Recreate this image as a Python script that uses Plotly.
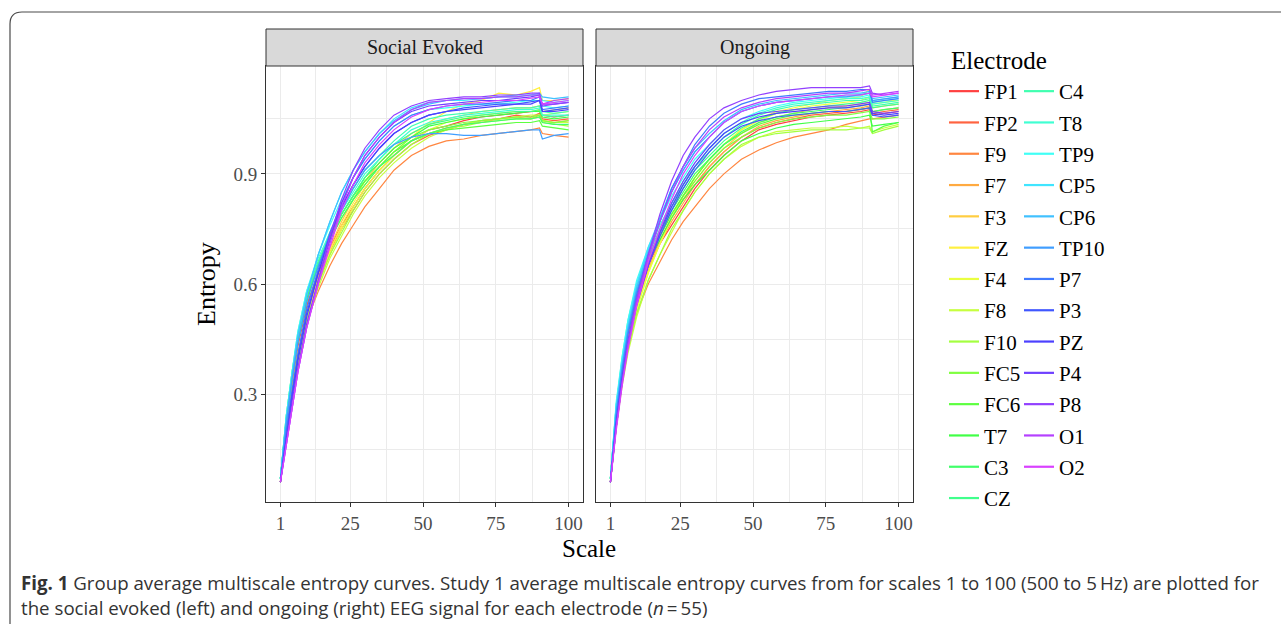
import colorsys
import plotly.graph_objects as go

# ---------------- data ----------------
SCALES = [1, 2, 3, 5, 7, 10, 14, 18, 22, 26, 30, 35, 40, 46, 52, 58, 64, 70, 76, 82, 87, 90, 91, 95, 100]

ELECTRODES = ["FP1", "FP2", "F9", "F7", "F3", "FZ", "F4", "F8", "F10", "FC5", "FC6", "T7", "C3", "CZ",
              "C4", "T8", "TP9", "CP5", "CP6", "TP10", "P7", "P3", "PZ", "P4", "P8", "O1", "O2"]

# Social Evoked
SE_FP1 = [0.06,0.14,0.21,0.33,0.43,0.54,0.63,0.70,0.76,0.81,0.86,0.91,0.95,0.99,1.02,1.03,1.045,1.055,1.06,1.065,1.07,1.072,1.06,1.055,1.06]
SE_FP2 = [0.06,0.14,0.22,0.34,0.44,0.54,0.63,0.69,0.75,0.80,0.85,0.90,0.94,0.98,1.005,1.02,1.035,1.045,1.05,1.06,1.055,1.065,1.05,1.045,1.05]
SE_F9 = [0.06,0.13,0.21,0.32,0.41,0.50,0.58,0.65,0.71,0.76,0.81,0.86,0.91,0.95,0.975,0.99,0.995,1.005,1.01,1.015,1.02,1.025,1.01,1.005,1.0]
SE_F7 = [0.06,0.13,0.20,0.31,0.41,0.51,0.61,0.68,0.75,0.81,0.86,0.91,0.95,0.99,1.01,1.025,1.035,1.04,1.05,1.055,1.05,1.06,1.045,1.04,1.045]
SE_F3 = [0.06,0.13,0.20,0.31,0.41,0.52,0.62,0.70,0.77,0.83,0.88,0.93,0.97,1.01,1.035,1.05,1.06,1.07,1.075,1.08,1.08,1.085,1.07,1.075,1.08]
SE_FZ = [0.06,0.12,0.19,0.30,0.40,0.51,0.61,0.69,0.76,0.82,0.87,0.92,0.96,1.00,1.04,1.07,1.09,1.10,1.12,1.115,1.125,1.135,1.10,1.10,1.105]
SE_F4 = [0.06,0.12,0.19,0.30,0.39,0.50,0.60,0.68,0.75,0.81,0.86,0.91,0.95,0.99,1.02,1.04,1.05,1.06,1.065,1.07,1.07,1.075,1.06,1.065,1.07]
SE_F8 = [0.06,0.12,0.19,0.29,0.38,0.49,0.59,0.67,0.73,0.79,0.84,0.89,0.93,0.97,1.00,1.02,1.035,1.045,1.05,1.055,1.06,1.06,1.045,1.04,1.04]
SE_F10 = [0.06,0.13,0.20,0.31,0.40,0.50,0.60,0.68,0.74,0.80,0.85,0.90,0.94,0.98,1.01,1.025,1.03,1.04,1.045,1.05,1.05,1.055,1.04,1.035,1.03]
SE_FC5 = [0.07,0.15,0.23,0.35,0.45,0.56,0.65,0.72,0.78,0.83,0.88,0.92,0.96,1.00,1.02,1.03,1.04,1.045,1.05,1.055,1.055,1.06,1.045,1.04,1.045]
SE_FC6 = [0.07,0.15,0.23,0.35,0.46,0.57,0.66,0.73,0.79,0.84,0.88,0.92,0.96,0.99,1.01,1.02,1.025,1.03,1.035,1.04,1.04,1.045,1.03,1.025,1.02]
SE_T7 = [0.07,0.15,0.24,0.36,0.46,0.57,0.66,0.73,0.79,0.84,0.89,0.93,0.97,1.00,1.03,1.04,1.05,1.055,1.06,1.065,1.07,1.07,1.055,1.05,1.055]
SE_C3 = [0.07,0.15,0.23,0.35,0.45,0.56,0.65,0.72,0.78,0.83,0.87,0.92,0.95,0.99,1.01,1.025,1.035,1.04,1.045,1.05,1.05,1.055,1.04,1.035,1.035]
SE_CZ = [0.07,0.14,0.22,0.34,0.44,0.55,0.65,0.72,0.79,0.84,0.89,0.94,0.98,1.01,1.035,1.045,1.055,1.06,1.065,1.07,1.07,1.075,1.06,1.055,1.06]
SE_C4 = [0.07,0.15,0.23,0.35,0.46,0.57,0.66,0.74,0.80,0.86,0.91,0.95,0.99,1.03,1.05,1.06,1.065,1.07,1.075,1.08,1.08,1.085,1.07,1.065,1.07]
SE_T8 = [0.07,0.16,0.24,0.36,0.47,0.58,0.67,0.74,0.80,0.85,0.90,0.94,0.98,1.02,1.04,1.05,1.06,1.065,1.07,1.075,1.075,1.08,1.06,1.06,1.06]
SE_TP9 = [0.07,0.16,0.24,0.36,0.47,0.58,0.68,0.76,0.83,0.89,0.94,0.99,1.03,1.06,1.075,1.08,1.085,1.09,1.09,1.095,1.10,1.10,1.085,1.08,1.085]
SE_CP5 = [0.07,0.15,0.23,0.35,0.46,0.57,0.68,0.77,0.85,0.91,0.96,1.01,1.05,1.08,1.095,1.10,1.10,1.105,1.11,1.11,1.115,1.115,1.10,1.095,1.10]
SE_CP6 = [0.07,0.15,0.23,0.35,0.46,0.57,0.68,0.77,0.85,0.91,0.96,1.01,1.045,1.075,1.09,1.10,1.105,1.105,1.11,1.115,1.115,1.12,1.11,1.105,1.11]
SE_TP10 = [0.07,0.14,0.22,0.34,0.44,0.55,0.65,0.73,0.80,0.86,0.91,0.95,0.98,1.00,1.01,1.01,1.005,1.005,1.01,1.015,1.02,1.02,0.995,1.005,1.01]
SE_P7 = [0.06,0.13,0.20,0.31,0.41,0.53,0.64,0.74,0.82,0.89,0.94,0.99,1.03,1.06,1.075,1.085,1.09,1.09,1.095,1.10,1.10,1.11,1.075,1.08,1.085]
SE_P3 = [0.06,0.12,0.19,0.30,0.40,0.52,0.63,0.73,0.81,0.87,0.92,0.97,1.01,1.04,1.06,1.07,1.08,1.085,1.09,1.09,1.095,1.10,1.07,1.075,1.08]
SE_PZ = [0.06,0.12,0.18,0.29,0.39,0.51,0.63,0.73,0.81,0.87,0.92,0.97,1.01,1.04,1.06,1.07,1.075,1.08,1.085,1.09,1.09,1.10,1.07,1.07,1.075]
SE_P4 = [0.06,0.11,0.17,0.28,0.37,0.49,0.61,0.72,0.82,0.89,0.95,1.00,1.04,1.07,1.085,1.09,1.095,1.10,1.10,1.105,1.11,1.115,1.09,1.09,1.095]
SE_P8 = [0.06,0.11,0.17,0.27,0.36,0.48,0.61,0.73,0.83,0.91,0.97,1.02,1.06,1.085,1.10,1.105,1.11,1.11,1.115,1.115,1.12,1.12,1.085,1.09,1.095]
SE_O1 = [0.06,0.11,0.17,0.27,0.36,0.48,0.60,0.71,0.81,0.89,0.95,1.00,1.04,1.075,1.095,1.10,1.105,1.105,1.11,1.11,1.115,1.115,1.09,1.10,1.105]
SE_O2 = [0.06,0.11,0.17,0.27,0.36,0.48,0.60,0.70,0.80,0.87,0.93,0.98,1.02,1.055,1.075,1.085,1.09,1.095,1.10,1.10,1.105,1.11,1.09,1.095,1.10]

# Ongoing
ON_FP1 = [0.06,0.15,0.24,0.36,0.45,0.55,0.64,0.71,0.76,0.81,0.86,0.91,0.95,0.99,1.02,1.035,1.045,1.055,1.06,1.065,1.07,1.075,1.06,1.065,1.07]
ON_FP2 = [0.06,0.15,0.24,0.36,0.46,0.56,0.65,0.72,0.78,0.83,0.87,0.92,0.96,1.00,1.025,1.04,1.05,1.06,1.065,1.07,1.075,1.08,1.065,1.07,1.075]
ON_F9 = [0.06,0.14,0.22,0.34,0.43,0.52,0.60,0.66,0.72,0.77,0.81,0.86,0.90,0.94,0.965,0.985,1.0,1.01,1.02,1.035,1.045,1.05,1.05,1.055,1.06]
ON_F7 = [0.06,0.15,0.23,0.35,0.45,0.55,0.64,0.71,0.77,0.82,0.87,0.92,0.96,1.00,1.03,1.045,1.055,1.065,1.07,1.075,1.08,1.085,1.07,1.075,1.08]
ON_F3 = [0.06,0.14,0.22,0.34,0.44,0.54,0.64,0.71,0.78,0.83,0.88,0.93,0.97,1.01,1.04,1.055,1.065,1.075,1.08,1.085,1.09,1.095,1.08,1.085,1.09]
ON_FZ = [0.06,0.13,0.21,0.33,0.42,0.53,0.63,0.71,0.78,0.84,0.89,0.94,0.98,1.02,1.05,1.07,1.08,1.09,1.10,1.105,1.11,1.13,1.095,1.10,1.10]
ON_F4 = [0.06,0.13,0.21,0.33,0.42,0.53,0.63,0.71,0.78,0.84,0.89,0.94,0.98,1.02,1.045,1.065,1.075,1.085,1.09,1.095,1.10,1.11,1.09,1.095,1.10]
ON_F8 = [0.06,0.13,0.21,0.32,0.41,0.51,0.61,0.68,0.74,0.80,0.85,0.90,0.94,0.975,1.0,1.015,1.02,1.025,1.025,1.03,1.025,1.03,1.015,1.025,1.035]
ON_F10 = [0.06,0.14,0.22,0.33,0.42,0.52,0.61,0.68,0.75,0.80,0.85,0.90,0.94,0.98,1.0,1.01,1.015,1.02,1.02,1.02,1.025,1.025,1.01,1.02,1.03]
ON_FC5 = [0.07,0.16,0.25,0.37,0.47,0.57,0.66,0.73,0.79,0.84,0.88,0.93,0.97,1.00,1.025,1.04,1.05,1.055,1.06,1.06,1.065,1.07,1.05,1.05,1.055]
ON_FC6 = [0.07,0.16,0.25,0.37,0.47,0.57,0.66,0.73,0.79,0.84,0.89,0.94,0.98,1.01,1.035,1.05,1.06,1.065,1.07,1.07,1.075,1.08,1.014,1.03,1.04]
ON_T7 = [0.07,0.16,0.25,0.37,0.47,0.57,0.66,0.72,0.78,0.83,0.87,0.91,0.95,0.99,1.01,1.025,1.035,1.04,1.045,1.05,1.055,1.06,1.03,1.035,1.04]
ON_C3 = [0.07,0.16,0.26,0.38,0.48,0.58,0.67,0.74,0.80,0.85,0.90,0.94,0.98,1.015,1.04,1.055,1.065,1.07,1.075,1.08,1.085,1.09,1.07,1.075,1.08]
ON_CZ = [0.07,0.16,0.26,0.38,0.48,0.58,0.67,0.74,0.81,0.86,0.91,0.95,0.99,1.025,1.05,1.065,1.075,1.08,1.085,1.09,1.095,1.10,1.08,1.085,1.09]
ON_C4 = [0.07,0.17,0.27,0.39,0.49,0.59,0.68,0.75,0.82,0.87,0.92,0.96,1.0,1.035,1.06,1.075,1.085,1.09,1.095,1.10,1.10,1.105,1.085,1.09,1.095]
ON_T8 = [0.07,0.17,0.27,0.40,0.50,0.60,0.69,0.76,0.82,0.88,0.92,0.97,1.01,1.04,1.065,1.08,1.09,1.095,1.10,1.105,1.105,1.11,1.09,1.095,1.10]
ON_TP9 = [0.07,0.17,0.28,0.40,0.50,0.61,0.70,0.77,0.84,0.89,0.94,0.98,1.02,1.05,1.07,1.085,1.095,1.10,1.105,1.11,1.11,1.115,1.095,1.10,1.105]
ON_CP5 = [0.07,0.17,0.27,0.39,0.49,0.60,0.70,0.78,0.85,0.91,0.96,1.0,1.04,1.07,1.085,1.095,1.10,1.105,1.11,1.115,1.115,1.12,1.10,1.105,1.11]
ON_CP6 = [0.07,0.16,0.26,0.38,0.48,0.59,0.69,0.78,0.86,0.92,0.97,1.01,1.045,1.075,1.09,1.10,1.105,1.11,1.115,1.12,1.12,1.125,1.105,1.11,1.115]
ON_TP10 = [0.06,0.16,0.25,0.37,0.47,0.58,0.68,0.77,0.85,0.91,0.96,1.0,1.04,1.07,1.085,1.095,1.10,1.105,1.11,1.11,1.115,1.12,1.10,1.105,1.11]
ON_P7 = [0.06,0.15,0.24,0.36,0.46,0.57,0.68,0.77,0.86,0.92,0.98,1.03,1.065,1.09,1.105,1.11,1.115,1.12,1.125,1.125,1.13,1.13,1.095,1.10,1.105]
ON_P3 = [0.06,0.14,0.22,0.34,0.44,0.55,0.65,0.73,0.80,0.86,0.91,0.96,1.0,1.03,1.045,1.055,1.06,1.065,1.07,1.07,1.075,1.08,1.06,1.055,1.06]
ON_PZ = [0.06,0.14,0.22,0.34,0.44,0.55,0.65,0.74,0.81,0.87,0.92,0.97,1.01,1.04,1.055,1.065,1.07,1.075,1.08,1.08,1.085,1.09,1.065,1.06,1.065]
ON_P4 = [0.06,0.13,0.21,0.33,0.43,0.54,0.65,0.74,0.82,0.88,0.93,0.98,1.02,1.05,1.065,1.07,1.075,1.08,1.085,1.085,1.09,1.095,1.07,1.065,1.07]
ON_P8 = [0.06,0.13,0.21,0.33,0.44,0.56,0.68,0.79,0.88,0.95,1.0,1.05,1.08,1.10,1.115,1.125,1.13,1.135,1.135,1.135,1.135,1.14,1.12,1.115,1.12]
ON_O1 = [0.06,0.13,0.21,0.33,0.43,0.55,0.67,0.77,0.85,0.92,0.97,1.02,1.055,1.08,1.095,1.105,1.11,1.115,1.12,1.12,1.125,1.13,1.115,1.12,1.125]
ON_O2 = [0.06,0.13,0.20,0.32,0.42,0.54,0.66,0.75,0.83,0.90,0.95,1.0,1.04,1.07,1.085,1.095,1.10,1.105,1.11,1.115,1.115,1.12,1.11,1.115,1.12]

X_TICKS = [1, 25, 50, 75, 100]
Y_TICKS = [0.3, 0.6, 0.9]
Y_TICK_LABELS = ["0.3", "0.6", "0.9"]
PANELS = ["Social Evoked", "Ongoing"]

g = globals()
SOCIAL = {e: g["SE_" + e] for e in ELECTRODES}
ONGOING = {e: g["ON_" + e] for e in ELECTRODES}

# ---------------- styling ----------------
W, H = 1281, 624
SERIF = "Liberation Serif, DejaVu Serif, serif"

def px_x(p):
    return p / W

def px_y(p):
    return 1 - p / H

n = len(ELECTRODES)
COLORS = []
for i in range(n):
    r, gg, b = colorsys.hsv_to_rgb(0.8 * i / (n - 1), 0.75, 1.0)
    COLORS.append("#%02X%02X%02X" % (round(r * 255), round(gg * 255), round(b * 255)))

fig = go.Figure()
half = (n + 1) // 2
for i, e in enumerate(ELECTRODES):
    fig.add_trace(go.Scatter(x=SCALES, y=SOCIAL[e], mode="lines", name=e,
                             line=dict(color=COLORS[i], width=1.2),
                             legendgroup=e, showlegend=False, xaxis="x", yaxis="y"))
    fig.add_trace(go.Scatter(x=SCALES, y=ONGOING[e], mode="lines", name=e,
                             line=dict(color=COLORS[i], width=1.2),
                             legendgroup=e, showlegend=False, xaxis="x2", yaxis="y2"))
# legend keys (drawn a little bolder, as in the reference)
for i, e in enumerate(ELECTRODES):
    leg = "legend" if i < half else "legend2"
    fig.add_trace(go.Scatter(x=[None], y=[None], mode="lines", name=e,
                             line=dict(color=COLORS[i], width=2.2),
                             legend=leg, legendgroup=e, showlegend=True, xaxis="x", yaxis="y"))

panel_x = [(266, 583), (596, 913)]
y_dom = [px_y(502), px_y(66)]

axis_common = dict(
    showline=True, mirror=True, linecolor="#333333", linewidth=1,
    showgrid=True, gridcolor="#EBEBEB", gridwidth=1.1, zeroline=False,
    ticks="outside", ticklen=4, tickwidth=1, tickcolor="#333333",
    tickfont=dict(family=SERIF, size=19, color="#4D4D4D"),
)

xcommon = dict(axis_common, range=[-3.95, 104.95], tickvals=X_TICKS,
               minor=dict(tickvals=[13, 37.5, 62.5, 87.5], showgrid=True,
                          gridcolor="#EBEBEB", gridwidth=0.6, ticks=""))
ycommon = dict(axis_common, range=[0.006, 1.194], tickvals=Y_TICKS, ticktext=Y_TICK_LABELS,
               domain=y_dom,
               minor=dict(tickvals=[0.15, 0.45, 0.75, 1.05], showgrid=True,
                          gridcolor="#EBEBEB", gridwidth=0.6, ticks=""))

fig.update_layout(
    xaxis=dict(xcommon, domain=[px_x(panel_x[0][0]), px_x(panel_x[0][1])], anchor="y"),
    xaxis2=dict(xcommon, domain=[px_x(panel_x[1][0]), px_x(panel_x[1][1])], anchor="y2"),
    yaxis=dict(ycommon, anchor="x"),
    yaxis2=dict(ycommon, anchor="x2", matches="y", showticklabels=False, ticks=""),
)

shapes = []
annotations = []
for (x0, x1), title in zip(panel_x, PANELS):
    shapes.append(dict(type="rect", xref="paper", yref="paper",
                       x0=px_x(x0), x1=px_x(x1), y0=px_y(66), y1=px_y(29),
                       fillcolor="#D9D9D9", line=dict(color="#333333", width=1), layer="above"))
    annotations.append(dict(text=title, xref="paper", yref="paper",
                            x=px_x((x0 + x1) / 2), y=px_y(47.5), showarrow=False,
                            xanchor="center", yanchor="middle",
                            font=dict(family=SERIF, size=20, color="#1A1A1A")))

# outer rounded frame
fx, fy, r = px_x(10), px_y(12), 12
path = (f"M {fx},0 L {fx},{px_y(12 + r)} Q {fx},{fy} {px_x(10 + r)},{fy} L 1.0,{fy}")
shapes.append(dict(type="path", xref="paper", yref="paper", path=path,
                   line=dict(color="#4A4A4A", width=1.2)))

annotations.append(dict(text="Scale", xref="paper", yref="paper", x=px_x(589), y=px_y(548),
                        showarrow=False, xanchor="center", yanchor="middle",
                        font=dict(family=SERIF, size=25, color="#000000")))
annotations.append(dict(text="Entropy", xref="paper", yref="paper", x=px_x(207), y=px_y(284),
                        showarrow=False, xanchor="center", yanchor="middle", textangle=-90,
                        font=dict(family=SERIF, size=26, color="#000000")))
annotations.append(dict(text="Electrode", xref="paper", yref="paper", x=px_x(949), y=px_y(61),
                        showarrow=False, xanchor="left", yanchor="middle",
                        font=dict(family=SERIF, size=25, color="#000000")))

CAPTION_1 = ("<b>Fig. 1</b> Group average multiscale entropy curves. Study 1 average multiscale entropy "
             "curves from for scales 1 to 100 (500 to 5\u2009Hz) are plotted for")
CAPTION_2 = "the social evoked (left) and ongoing (right) EEG signal for each electrode (<i>n</i>\u2009=\u200955)"
cap_font = dict(family="Open Sans, sans-serif", size=18.7, color="#333333")
annotations.append(dict(text=CAPTION_1, xref="paper", yref="paper", x=px_x(19), y=px_y(582),
                        showarrow=False, xanchor="left", yanchor="middle", font=cap_font))
annotations.append(dict(text=CAPTION_2, xref="paper", yref="paper", x=px_x(19), y=px_y(607),
                        showarrow=False, xanchor="left", yanchor="middle", font=cap_font))

legend_common = dict(xanchor="left", yanchor="top", bgcolor="rgba(0,0,0,0)",
                     font=dict(family=SERIF, size=21, color="#000000"),
                     tracegroupgap=1, itemwidth=30, borderwidth=0)

fig.update_layout(
    width=W, height=H, margin=dict(l=0, r=0, t=0, b=0),
    paper_bgcolor="white", plot_bgcolor="white",
    shapes=shapes, annotations=annotations,
    showlegend=True,
    legend=dict(legend_common, x=px_x(944), y=px_y(71)),
    legend2=dict(legend_common, x=px_x(1019), y=px_y(71)),
)

fig.write_html("out.html", config={"displayModeBar": False},
               post_script="document.body.style.margin='0px';")
